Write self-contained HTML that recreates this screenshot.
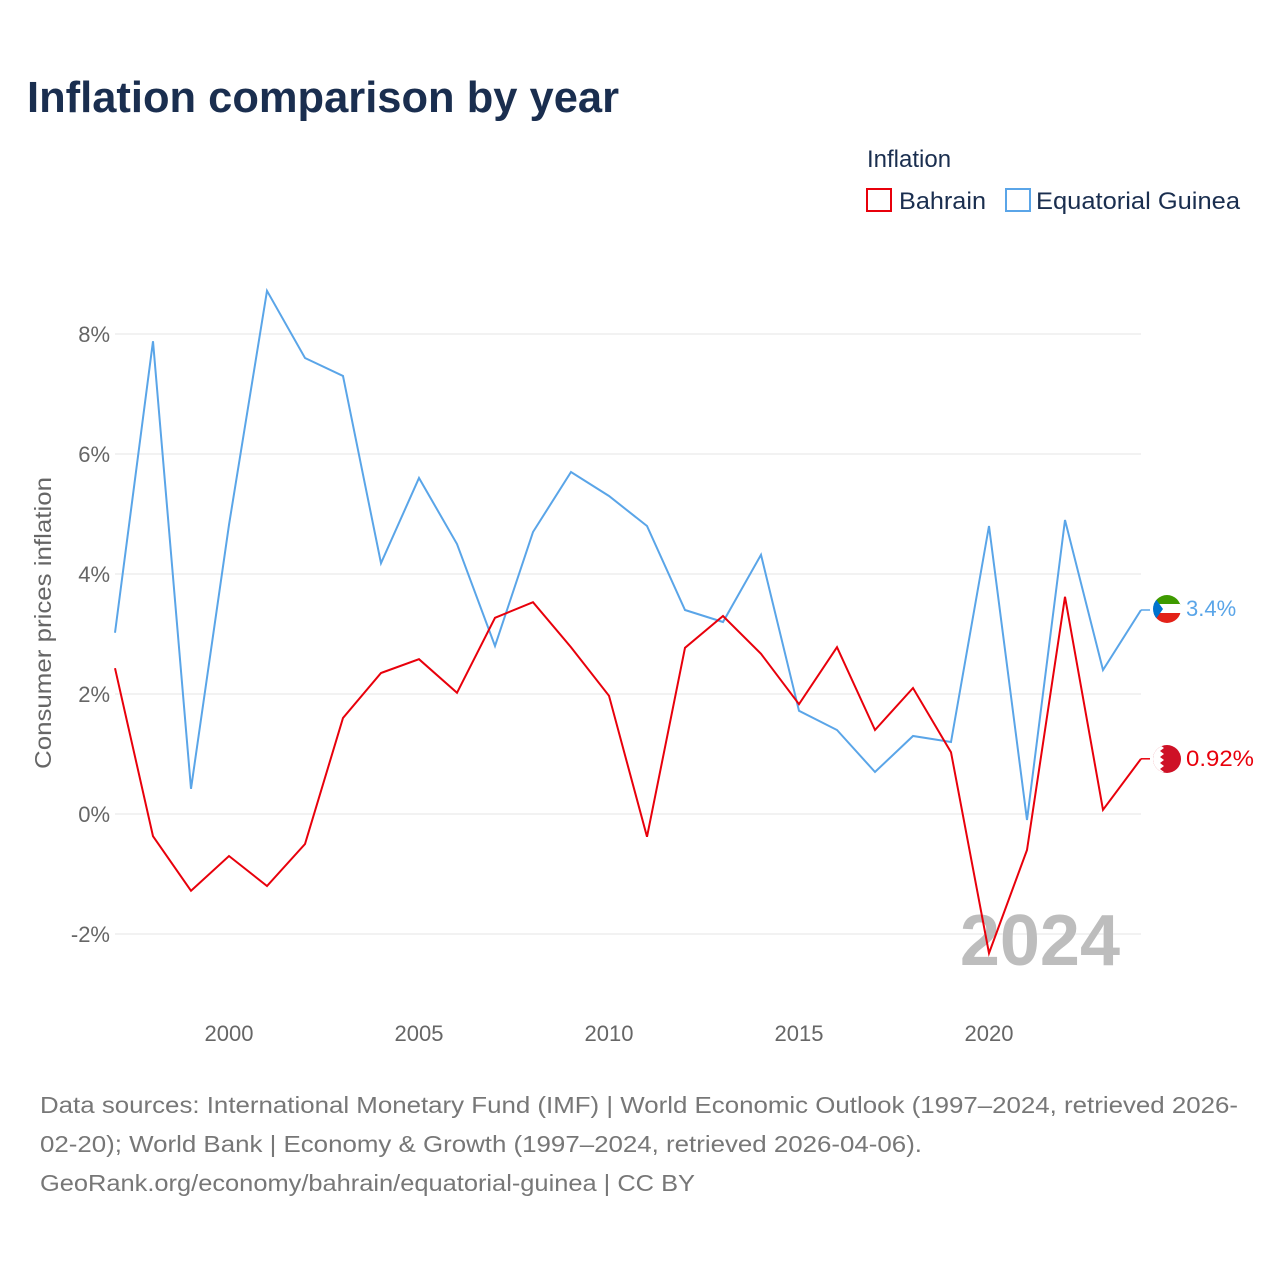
<!DOCTYPE html>
<html><head><meta charset="utf-8">
<style>
body{margin:0;background:#fff;font-family:"Liberation Sans",sans-serif;}
svg text{font-family:"Liberation Sans",sans-serif;}
</style></head>
<body>
<svg id="chart" width="1280" height="1280" xmlns="http://www.w3.org/2000/svg">
<text x="27" y="112" font-size="44" font-weight="bold" fill="#1a2e4f" textLength="592" lengthAdjust="spacingAndGlyphs">Inflation comparison by year</text>
<text x="867" y="167" font-size="24" fill="#1a2e4f">Inflation</text>
<g><rect x="867" y="189" width="24" height="22" fill="none" stroke="#e8000b" stroke-width="2"/><text x="899" y="209" font-size="24" fill="#1a2e4f" textLength="87" lengthAdjust="spacingAndGlyphs">Bahrain</text></g>
<g><rect x="1006" y="189" width="24" height="22" fill="none" stroke="#5aa5e8" stroke-width="2"/><text x="1036" y="209" font-size="24" fill="#1a2e4f" textLength="204" lengthAdjust="spacingAndGlyphs">Equatorial Guinea</text></g>
<g id="grid"></g><g id="yticks"></g><g id="xticks"></g>
<text transform="translate(51,623) rotate(-90)" text-anchor="middle" font-size="23" fill="#666" textLength="292" lengthAdjust="spacingAndGlyphs">Consumer prices inflation</text>
<text x="1120" y="965" text-anchor="end" font-size="72" font-weight="bold" fill="#bdbdbd">2024</text>
<g id="series"></g>
<g>
<clipPath id="c1"><circle cx="1167" cy="609" r="14"/></clipPath>
<g clip-path="url(#c1)"><rect x="1153" y="595" width="28" height="10" fill="#3e9a00"/><rect x="1153" y="604" width="28" height="10" fill="#fff"/><rect x="1153" y="613" width="28" height="10" fill="#e32118"/><polygon points="1153,595 1163,609 1153,623" fill="#0073ce"/></g></g>
<g>
<clipPath id="c2"><circle cx="1167" cy="759" r="14"/></clipPath>
<g clip-path="url(#c2)"><rect x="1153" y="745" width="28" height="28" fill="#ce1126"/><polygon points="1153,745 1160,745 1164,748 1160,751 1164,754 1160,757 1164,760 1160,763 1164,766 1160,769 1164,772 1160,773 1153,773" fill="#fff"/></g></g>
<text x="1186" y="616" font-size="22" fill="#5aa5e8">3.4%</text>
<text x="1186" y="766" font-size="22" fill="#e8000b" textLength="68" lengthAdjust="spacingAndGlyphs">0.92%</text>
<g font-size="23" fill="#777">
<text x="40" y="1113" textLength="1198" lengthAdjust="spacingAndGlyphs">Data sources: International Monetary Fund (IMF) | World Economic Outlook (1997–2024, retrieved 2026-</text>
<text x="40" y="1152" textLength="882" lengthAdjust="spacingAndGlyphs">02-20); World Bank | Economy &amp; Growth (1997–2024, retrieved 2026-04-06).</text>
<text x="40" y="1191" textLength="655" lengthAdjust="spacingAndGlyphs">GeoRank.org/economy/bahrain/equatorial-guinea | CC BY</text>
</g>
</svg>
<script>
const years=[1997,1998,1999,2000,2001,2002,2003,2004,2005,2006,2007,2008,2009,2010,2011,2012,2013,2014,2015,2016,2017,2018,2019,2020,2021,2022,2023,2024];
const bahrain=[2.43,-0.37,-1.28,-0.7,-1.2,-0.5,1.6,2.35,2.58,2.02,3.27,3.53,2.78,1.97,-0.38,2.77,3.3,2.67,1.83,2.78,1.4,2.1,1.03,-2.32,-0.6,3.62,0.07,0.92];
const eqGuinea=[3.02,7.88,0.42,4.82,8.72,7.6,7.3,4.18,5.6,4.5,2.8,4.7,5.7,5.3,4.8,3.4,3.2,4.32,1.72,1.4,0.7,1.3,1.2,4.8,-0.1,4.9,2.4,3.4];
const yTicks=[-2,0,2,4,6,8];
const yTickLabels=["-2%","0%","2%","4%","6%","8%"];
const xTicks=[2000,2005,2010,2015,2020];
const NS="http://www.w3.org/2000/svg";
const X=y=>115+(y-1997)*38;
const Y=v=>814-v*60;
const g=id=>document.getElementById(id);
yTicks.forEach((t,i)=>{
 const l=document.createElementNS(NS,'line');
 
 
 l.setAttribute('x1',115);l.setAttribute('x2',1141);l.setAttribute('y1',Y(t));l.setAttribute('y2',Y(t));
 l.setAttribute('stroke','#e6e6e6');g('grid').appendChild(l);
 const tx=document.createElementNS(NS,'text');
 
 
 tx.setAttribute('x',110);tx.setAttribute('y',Y(t)+8);tx.setAttribute('text-anchor','end');
 tx.setAttribute('font-size','22');tx.setAttribute('fill','#666');tx.textContent=yTickLabels[i];g('yticks').appendChild(tx);
});
xTicks.forEach(t=>{
 const tx=document.createElementNS(NS,'text');
 
 
 tx.setAttribute('x',X(t));tx.setAttribute('y',1041);tx.setAttribute('text-anchor','middle');
 tx.setAttribute('font-size','22');tx.setAttribute('fill','#666');tx.textContent=t;g('xticks').appendChild(tx);
});
function line(vals,color,name){
 const p=document.createElementNS(NS,'polyline');
 
 
 p.setAttribute('points',vals.map((v,i)=>X(years[i])+','+Y(v)).join(' '));
 p.setAttribute('fill','none');p.setAttribute('stroke',color);p.setAttribute('stroke-width','2');
 g('series').appendChild(p);
 const last=vals[vals.length-1];
 const c=document.createElementNS(NS,'line');
 
 
 c.setAttribute('x1',X(years[years.length-1]));c.setAttribute('x2',X(years[years.length-1])+9);
 c.setAttribute('y1',Y(last));c.setAttribute('y2',Y(last));c.setAttribute('stroke',color);c.setAttribute('stroke-width','1.5');
 g('series').appendChild(c);
}
line(eqGuinea,'#5aa5e8','line-equatorial-guinea');
line(bahrain,'#e8000b','line-bahrain');
</script>
</body></html>
